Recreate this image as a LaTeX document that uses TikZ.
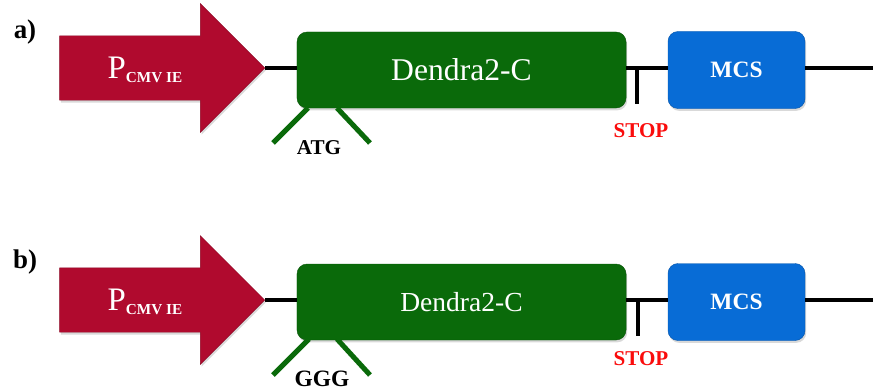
\documentclass[tikz,border=0pt]{standalone}
\usepackage{fontspec}
\setmainfont{Liberation Serif}
\usetikzlibrary{shapes.arrows,shadows}

\definecolor{promred}{RGB}{176,10,46}
\definecolor{genegreen}{RGB}{10,106,10}
\definecolor{mcsblue}{RGB}{8,108,214}
\definecolor{stopred}{RGB}{250,12,12}

\begin{document}
\begin{tikzpicture}[x = 0.03cm, y = -0.03cm,
                    promoter/.style = {single arrow, fill = promred, draw = promred!80!black, line width = 0.4pt,
                                       minimum height = 6.15cm, minimum width = 3.84cm,
                                       inner xsep = 0pt, inner ysep = 0.96cm, anchor = tip,
                                       single arrow head extend = 0.96cm, single arrow head indent = 0pt,
                                       drop shadow = {opacity = 0.3, shadow xshift = 1pt, shadow yshift = -2pt}},
                    genebox/.style = {rectangle, rounded corners = 0.3cm, fill = genegreen, draw = genegreen!80!black,
                                      minimum width = 9.87cm, minimum height = 2.28cm, text = white,
                                      drop shadow = {opacity = 0.3, shadow xshift = 1pt, shadow yshift = -2pt}},
                    mcsbox/.style = {rectangle, rounded corners = 0.3cm, fill = mcsblue, draw = mcsblue!80!black,
                                     minimum width = 4.11cm, minimum height = 2.31cm, text = white,
                                     font = \fontsize{20}{20}\selectfont\bfseries,
                                     drop shadow = {opacity = 0.3, shadow xshift = 1pt, shadow yshift = -2pt}},
                    panel/.style = {font = \fontsize{23}{23}\selectfont\bfseries},
                    promtext/.style = {text = white, font = \fontsize{28}{28}\selectfont},
                    codon/.style = {font = \fontsize{18}{18}\selectfont\bfseries},
                    stoptext/.style = {text = stopred, font = \fontsize{18}{18}\selectfont\bfseries},
                    backbone/.style = {line width = 3.4pt},
                    site/.style = {line width = 4.3pt, draw = genegreen}]
      \useasboundingbox (0, 0) rectangle (873, 391);

      % construct a)
      \node [panel] (lblA) at (25, 32) {a)};
      \node [promoter] (promA) at (265, 68) {};
      \node [promtext] (ptxtA) at (145, 70) {P{\fontsize{13}{13}\selectfont\bfseries\raisebox{-0.3em}{CMV IE}}};
      \node [genebox, font = \fontsize{27}{27}\selectfont] (geneA) at (461.5, 70) {Dendra2-C};
      \node [mcsbox] (mcsA) at (736.5, 70) {MCS};
      \coordinate (endA) at (873, 68);

      \draw [backbone] (promA.tip) -- (geneA.west |- promA.tip);
      \draw [backbone] (geneA.east |- promA.tip) -- (mcsA.west |- promA.tip);
      \draw [backbone] (mcsA.east |- promA.tip) -- (endA);

      \coordinate (stopA) at (637, 68);
      \coordinate (stopendA) at (637, 104);
      \draw [backbone] (stopA) -- (stopendA);
      \node [stoptext] (stoptxtA) at (641, 131) {STOP};

      \coordinate (s1A) at (308, 108);
      \coordinate (e1A) at (273, 143);
      \coordinate (s2A) at (337, 108);
      \coordinate (e2A) at (370, 143);
      \draw [site] (s1A) -- (e1A);
      \draw [site] (s2A) -- (e2A);
      \node [codon] (codonA) at (319, 148) {ATG};

      % construct b)
      \node [panel] (lblB) at (25, 262) {b)};
      \node [promoter] (promB) at (265, 300) {};
      \node [promtext] (ptxtB) at (145, 302) {P{\fontsize{13}{13}\selectfont\bfseries\raisebox{-0.3em}{CMV IE}}};
      \node [genebox, font = \fontsize{23.5}{23.5}\selectfont] (geneB) at (461.5, 302) {Dendra2-C};
      \node [mcsbox] (mcsB) at (736.5, 302) {MCS};
      \coordinate (endB) at (873, 300);

      \draw [backbone] (promB.tip) -- (geneB.west |- promB.tip);
      \draw [backbone] (geneB.east |- promB.tip) -- (mcsB.west |- promB.tip);
      \draw [backbone] (mcsB.east |- promB.tip) -- (endB);

      \coordinate (stopB) at (638, 300);
      \coordinate (stopendB) at (638, 336);
      \draw [backbone] (stopB) -- (stopendB);
      \node [stoptext] (stoptxtB) at (641, 359) {STOP};

      \coordinate (s1B) at (309, 339);
      \coordinate (e1B) at (273, 375);
      \coordinate (s2B) at (337, 339);
      \coordinate (e2B) at (370, 375);
      \draw [site] (s1B) -- (e1B);
      \draw [site] (s2B) -- (e2B);
      \node [codon, font = \fontsize{20}{20}\selectfont\bfseries] (codonB) at (322, 379) {GGG};
\end{tikzpicture}
\end{document}
